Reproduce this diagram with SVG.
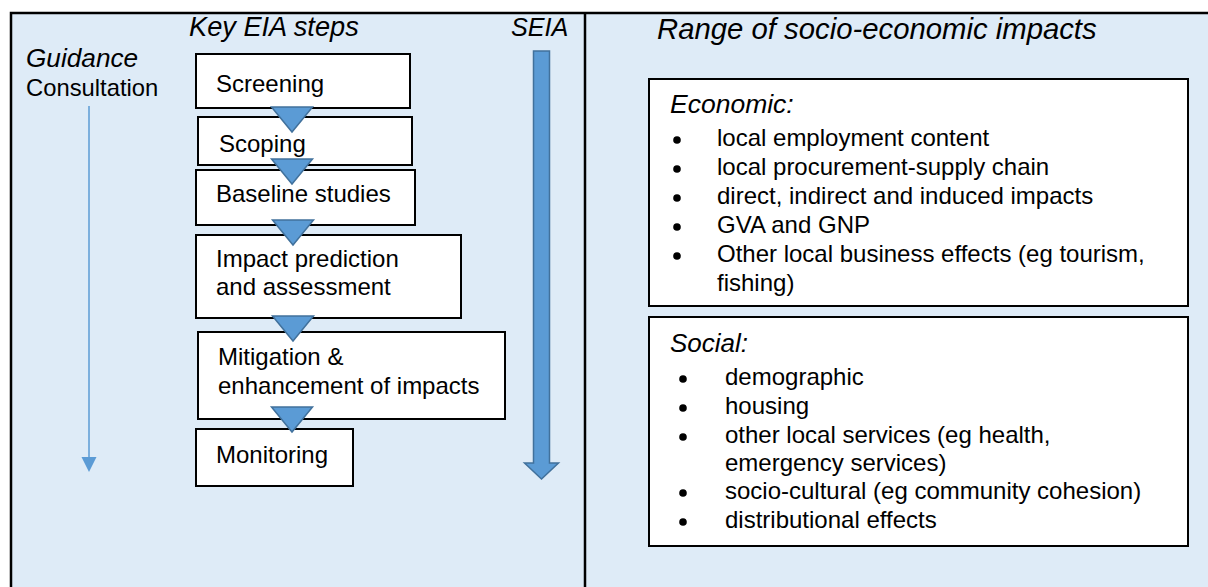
<svg xmlns="http://www.w3.org/2000/svg" width="1208" height="587" viewBox="0 0 1208 587">
  <style>
    text { font-family: "Liberation Sans", Arial, sans-serif; fill: #000; }
    .it { font-style: italic; }
    .box { fill: #fff; stroke: #000; stroke-width: 2; }
    .step { font-size: 24px; }
    .item { font-size: 24px; }
    .flow { fill: #5B9BD5; stroke: #41719C; stroke-width: 1.5; stroke-linejoin: miter; }
  </style>
  <defs>
    <!-- small downward triangle linking one step to the next -->
    <path id="stepArrow" d="M-20.5 0 L20.5 0 L0 25 Z"/>
    <circle id="dot" r="3.8" fill="#000"/>
  </defs>

  <!-- page background and frame -->
  <rect width="1208" height="587" fill="#fff"/>
  <rect x="11" y="13" width="1220" height="600" fill="#DEEBF7" stroke="#000" stroke-width="2.5"/>
  <line x1="585" y1="13" x2="585" y2="587" stroke="#000" stroke-width="2.5"/>

  <!-- column headings -->
  <text class="it" x="189" y="36" font-size="27.2">Key EIA steps</text>
  <text class="it" x="511" y="36" font-size="25.2">SEIA</text>
  <text class="it" x="26" y="67" font-size="26.2">Guidance</text>
  <text x="26" y="96" font-size="23.8">Consultation</text>
  <text class="it" x="657" y="39" font-size="29.3">Range of socio-economic impacts</text>

  <!-- EIA step boxes -->
  <g id="screening">
    <rect class="box" x="196" y="54" width="214" height="54"/>
    <text class="step" x="216" y="92">Screening</text>
  </g>
  <g id="scoping">
    <rect class="box" x="198" y="117" width="214" height="48"/>
    <text class="step" x="219" y="152">Scoping</text>
  </g>
  <g id="baseline">
    <rect class="box" x="196" y="170" width="219" height="55"/>
    <text class="step" x="216" y="202">Baseline studies</text>
  </g>
  <g id="impact">
    <rect class="box" x="196" y="235" width="265" height="83"/>
    <text class="step" x="216" y="267">Impact prediction</text>
    <text class="step" x="216" y="295">and assessment</text>
  </g>
  <g id="mitigation">
    <rect class="box" x="198" y="332" width="307" height="87"/>
    <text class="step" x="218" y="365">Mitigation &amp;</text>
    <text class="step" x="218" y="394">enhancement of impacts</text>
  </g>
  <g id="monitoring">
    <rect class="box" x="196" y="429" width="157" height="57"/>
    <text class="step" x="216" y="463">Monitoring</text>
  </g>

  <!-- connectors -->
  <g id="connectors">
    <use href="#stepArrow" class="flow" x="292" y="107"/>
    <use href="#stepArrow" class="flow" x="292" y="159"/>
    <use href="#stepArrow" class="flow" x="293" y="220"/>
    <use href="#stepArrow" class="flow" x="293" y="316"/>
    <use href="#stepArrow" class="flow" x="292" y="407"/>

    <!-- consultation timeline -->
    <line x1="89" y1="106" x2="89" y2="458" stroke="#5B9BD5" stroke-width="1.5"/>
    <path d="M81.5 457 L96.5 457 L89 472 Z" fill="#5B9BD5"/>

    <!-- SEIA block arrow -->
    <path class="flow" d="M533.5 51 L549.5 51 L549.5 463 L558.5 463 L541.5 479 L524.5 463 L533.5 463 Z"/>
  </g>

  <!-- impact category lists -->
  <g id="economic">
    <rect class="box" x="649" y="79" width="539" height="227"/>
    <text class="it" x="670" y="113" font-size="26.5">Economic:</text>
    <use href="#dot" x="677" y="140"/>
    <use href="#dot" x="677" y="169"/>
    <use href="#dot" x="677" y="198"/>
    <use href="#dot" x="677" y="227"/>
    <use href="#dot" x="677" y="256"/>
    <text class="item" x="717" y="146">local employment content</text>
    <text class="item" x="717" y="175">local procurement-supply chain</text>
    <text class="item" x="717" y="204">direct, indirect and induced impacts</text>
    <text class="item" x="717" y="233">GVA and GNP</text>
    <text class="item" x="717" y="262">Other local business effects (eg tourism,</text>
    <text class="item" x="717" y="291">fishing)</text>
  </g>
  <g id="social">
    <rect class="box" x="649" y="317" width="539" height="229"/>
    <text class="it" x="670" y="352" font-size="26">Social:</text>
    <use href="#dot" x="683" y="379"/>
    <use href="#dot" x="683" y="408"/>
    <use href="#dot" x="683" y="437"/>
    <use href="#dot" x="683" y="493"/>
    <use href="#dot" x="683" y="522"/>
    <text class="item" x="725" y="385">demographic</text>
    <text class="item" x="725" y="414">housing</text>
    <text class="item" x="725" y="443">other local services (eg health,</text>
    <text class="item" x="725" y="471">emergency services)</text>
    <text class="item" x="725" y="499">socio-cultural (eg community cohesion)</text>
    <text class="item" x="725" y="528">distributional effects</text>
  </g>
</svg>
